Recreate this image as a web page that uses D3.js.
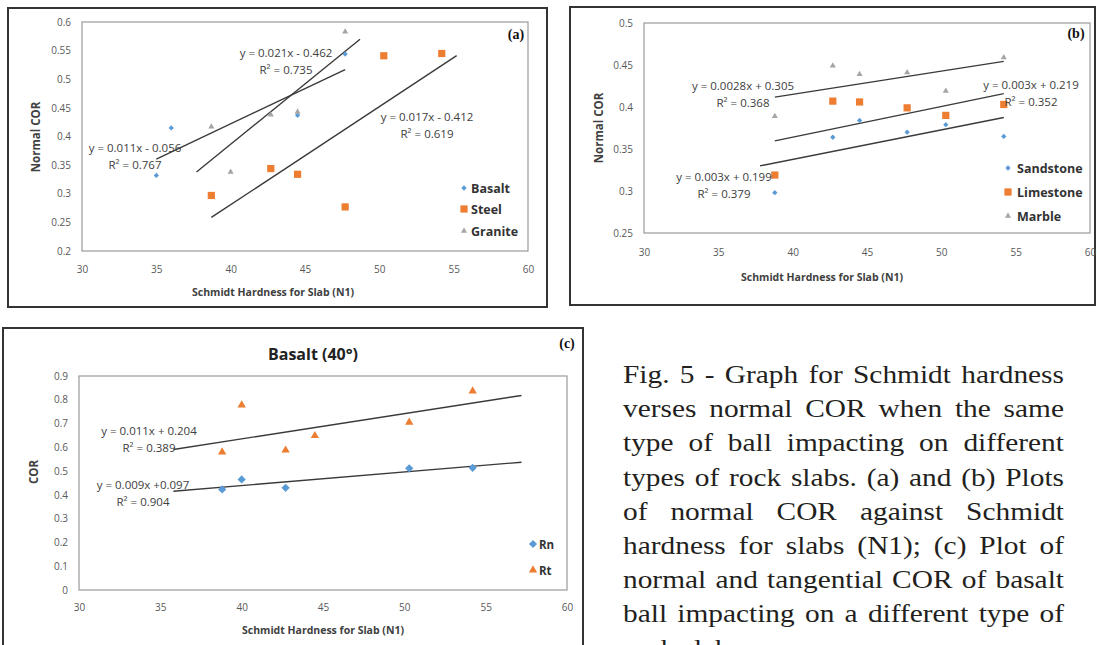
<!DOCTYPE html>
<html>
<head>
<meta charset="utf-8">
<script src="https://cdn.jsdelivr.net/npm/d3@7"></script>
<style>
  body { margin: 0; background: #fff; }
  svg { display: block; }
</style>
</head>
<body>
<div id="main"></div>
<script>
// ---- values ----
const xTicks = [30, 35, 40, 45, 50, 55, 60];

// (a) normal COR for basalt / steel / granite balls
const aBasaltX = [35, 36, 44.5, 47.7];
const aBasaltY = [0.332, 0.415, 0.437, 0.544];
const aSteelX = [38.7, 42.7, 44.5, 47.7, 50.3, 54.2];
const aSteelY = [0.297, 0.344, 0.334, 0.277, 0.541, 0.545];
const aGraniteX = [38.7, 40, 42.7, 44.5, 47.7];
const aGraniteY = [0.417, 0.338, 0.438, 0.443, 0.583];
const aYTicks = [0.2, 0.25, 0.3, 0.35, 0.4, 0.45, 0.5, 0.55, 0.6];

// (b) normal COR for sandstone / limestone / marble balls
const bX = [38.8, 42.7, 44.5, 47.7, 50.3, 54.2];
const bSandstoneY = [0.298, 0.364, 0.384, 0.370, 0.379, 0.365];
const bLimestoneY = [0.319, 0.407, 0.406, 0.399, 0.390, 0.403];
const bMarbleY = [0.389, 0.449, 0.439, 0.441, 0.419, 0.459];
const bYTicks = [0.25, 0.3, 0.35, 0.4, 0.45, 0.5];

// (c) basalt ball at 40 deg, normal (Rn) and tangential (Rt) COR
const cRnX = [38.8, 40, 42.7, 50.3, 54.2];
const cRnY = [0.423, 0.465, 0.430, 0.512, 0.514];
const cRtX = [38.8, 40, 42.7, 44.5, 50.3, 54.2];
const cRtY = [0.580, 0.778, 0.588, 0.649, 0.705, 0.837];
const cYTicks = [0, 0.1, 0.2, 0.3, 0.4, 0.5, 0.6, 0.7, 0.8, 0.9];

// trendline labels as printed, and forecast [backward, forward] in x units
const aEquations = [["y = 0.011x - 0.056", "R² = 0.767"], ["y = 0.017x - 0.412", "R² = 0.619"], ["y = 0.021x - 0.462", "R² = 0.735"]];
const aForecast = [[0, 0], [0, 1], [1, 1]];
const bEquations = [["y = 0.003x + 0.199", "R² = 0.379"], ["y = 0.003x + 0.219", "R² = 0.352"], ["y = 0.0028x + 0.305", "R² = 0.368"]];
const bForecast = [[1, 0], [0, 0], [0, 0]];
const cEquations = [["y = 0.009x +0.097", "R² = 0.904"], ["y = 0.011x + 0.204", "R² = 0.389"]];
const cForecast = [[3, 3], [3, 3]];

const captionLines = [
  "Fig. 5 - Graph for Schmidt hardness",
  "verses normal COR when the same",
  "type of ball impacting on different",
  "types of rock slabs. (a) and (b) Plots",
  "of normal COR against Schmidt",
  "hardness for slabs (N1); (c) Plot of",
  "normal and tangential COR of basalt",
  "ball impacting on a different type of",
  "rock slabs."
];

const BLUE = "#5b9bd5", ORANGE = "#ed7d31", GRAY = "#a5a5a5";
const FONT = "'Open Sans', sans-serif";

// square diamond (excel style), d3.symbolDiamond is too tall
const diamond = {
  draw(ctx, size) {
    const r = Math.sqrt(size / 2);
    ctx.moveTo(0, -r); ctx.lineTo(r, 0); ctx.lineTo(0, r); ctx.lineTo(-r, 0); ctx.closePath();
  }
};

function fit(xs, ys) {
  const mx = d3.mean(xs), my = d3.mean(ys);
  let sxy = 0, sxx = 0;
  xs.forEach((x, i) => { sxy += (x - mx) * (ys[i] - my); sxx += (x - mx) ** 2; });
  const m = sxy / sxx;
  return { m, b: my - m * mx };
}

const svg = d3.select("#main").append("svg")
  .attr("width", 1097)
  .attr("height", 645)
  .style("font-family", FONT);

function drawPanel(p) {
  const g = svg.append("g");

  // outer frame
  g.append("rect")
    .attr("x", p.frame[0]).attr("y", p.frame[1])
    .attr("width", p.frame[2] - p.frame[0]).attr("height", p.frame[3] - p.frame[1])
    .attr("fill", "#fff").attr("stroke", "#333").attr("stroke-width", 2);

  const x = d3.scaleLinear().domain([30, 60]).range([p.plot[0], p.plot[2]]);
  const y = d3.scaleLinear().domain(p.yDomain).range([p.plot[3], p.plot[1]]);

  // plot area border
  g.append("rect")
    .attr("x", p.plot[0]).attr("y", p.plot[1])
    .attr("width", p.plot[2] - p.plot[0]).attr("height", p.plot[3] - p.plot[1])
    .attr("fill", "none").attr("stroke", "#9a9a9a").attr("stroke-width", 1.2);

  const yAxis = g.append("g")
    .attr("transform", `translate(${p.plot[0]},0)`)
    .call(d3.axisLeft(y).tickValues(p.yTicks).tickSize(0).tickPadding(11).tickFormat(d => String(d)));
  const xAxis = g.append("g")
    .attr("transform", `translate(0,${p.plot[3]})`)
    .call(d3.axisBottom(x).tickValues(xTicks).tickSize(0).tickPadding(p.xPad).tickFormat(d => String(d)));
  [yAxis, xAxis].forEach(a => {
    a.select(".domain").remove();
    a.selectAll("text").attr("fill", "#595959").style("font-family", FONT).style("font-size", "10px");
  });

  // trendlines
  const line = d3.line().x(d => x(d[0])).y(d => y(d[1]));
  p.series.forEach(s => {
    const f = fit(s.x, s.y);
    const x0 = d3.min(s.x) - s.forecast[0], x1 = d3.max(s.x) + s.forecast[1];
    g.append("path")
      .attr("d", line([[x0, f.m * x0 + f.b], [x1, f.m * x1 + f.b]]))
      .attr("stroke", "#3a3a3a").attr("stroke-width", 1.4).attr("fill", "none");
  });

  // markers
  p.series.forEach(s => {
    g.append("g").selectAll("path")
      .data(s.x.map((d, i) => [d, s.y[i]]))
      .enter().append("path")
      .attr("transform", d => `translate(${x(d[0])},${y(d[1])})`)
      .attr("d", d3.symbol().type(s.symbol).size(s.size))
      .attr("fill", s.color);
  });

  // equation labels
  p.series.forEach(s => {
    s.eq.forEach((t, i) => {
      g.append("text")
        .attr("x", s.eqPos[0]).attr("y", s.eqPos[1] + i * 17)
        .attr("text-anchor", "middle").attr("dominant-baseline", "central")
        .attr("fill", "#404040").style("font-size", "11.5px")
        .text(t);
    });
  });

  // legend
  p.series.forEach((s, i) => {
    const ly = p.legend.ys[i];
    g.append("path")
      .attr("transform", `translate(${p.legend.mx},${ly})`)
      .attr("d", d3.symbol().type(s.symbol).size(s.size))
      .attr("fill", s.color);
    g.append("text")
      .attr("x", p.legend.tx).attr("y", ly)
      .attr("dominant-baseline", "central")
      .attr("fill", "#333").style("font-size", p.legend.fs).style("font-weight", "bold")
      .text(s.name);
  });

  // axis titles
  g.append("text")
    .attr("x", p.xTitle[0]).attr("y", p.xTitle[1])
    .attr("text-anchor", "middle").attr("dominant-baseline", "central")
    .attr("fill", "#404040").style("font-size", "10.5px").style("font-weight", "bold")
    .text("Schmidt Hardness for Slab (N1)");
  g.append("text")
    .attr("transform", `translate(${p.yTitle[0]},${p.yTitle[1]}) rotate(-90)`)
    .attr("text-anchor", "middle").attr("dominant-baseline", "central")
    .attr("fill", "#404040").style("font-size", "11.5px").style("font-weight", "bold")
    .text(p.yLabel);

  // panel tag
  g.append("text")
    .attr("x", p.tag[0]).attr("y", p.tag[1])
    .attr("text-anchor", "middle").attr("dominant-baseline", "central")
    .style("font-family", "'Liberation Serif', serif").style("font-size", "14px").style("font-weight", "bold")
    .attr("fill", "#111")
    .text(p.tagText);

  if (p.title) {
    g.append("text")
      .attr("x", p.title[0]).attr("y", p.title[1])
      .attr("text-anchor", "middle").attr("dominant-baseline", "central")
      .attr("fill", "#222").style("font-size", "16px").style("font-weight", "bold")
      .text(p.titleText);
  }
}

drawPanel({
  frame: [8, 8, 547, 307],
  plot: [82, 22, 528, 251],
  yDomain: [0.2, 0.6], yTicks: aYTicks, xPad: 15,
  series: [
    { name: "Basalt", x: aBasaltX, y: aBasaltY, color: BLUE, symbol: diamond, size: 14, forecast: aForecast[0], eq: aEquations[0], eqPos: [135, 147] },
    { name: "Steel", x: aSteelX, y: aSteelY, color: ORANGE, symbol: d3.symbolSquare, size: 52, forecast: aForecast[1], eq: aEquations[1], eqPos: [427, 116] },
    { name: "Granite", x: aGraniteX, y: aGraniteY, color: GRAY, symbol: d3.symbolTriangle, size: 16, forecast: aForecast[2], eq: aEquations[2], eqPos: [286, 52] }
  ],
  legend: { mx: 464, tx: 471, ys: [188, 209, 231], fs: "12.5px" },
  xTitle: [273, 292], yTitle: [35, 137], yLabel: "Normal COR",
  tag: [516, 34], tagText: "(a)"
});

drawPanel({
  frame: [570, 7, 1095, 305],
  plot: [644, 23, 1090, 233],
  yDomain: [0.25, 0.5], yTicks: bYTicks, xPad: 16,
  series: [
    { name: "Sandstone", x: bX, y: bSandstoneY, color: BLUE, symbol: diamond, size: 14, forecast: bForecast[0], eq: bEquations[0], eqPos: [724, 176] },
    { name: "Limestone", x: bX, y: bLimestoneY, color: ORANGE, symbol: d3.symbolSquare, size: 52, forecast: bForecast[1], eq: bEquations[1], eqPos: [1031, 84] },
    { name: "Marble", x: bX, y: bMarbleY, color: GRAY, symbol: d3.symbolTriangle, size: 16, forecast: bForecast[2], eq: bEquations[2], eqPos: [743, 85] }
  ],
  legend: { mx: 1008, tx: 1017, ys: [168, 192, 216], fs: "12.5px" },
  xTitle: [822, 277], yTitle: [598, 128], yLabel: "Normal COR",
  tag: [1076, 33], tagText: "(b)"
});

drawPanel({
  frame: [3, 328, 583, 680],
  plot: [79, 376, 567, 590],
  yDomain: [0, 0.9], yTicks: cYTicks, xPad: 14,
  series: [
    { name: "Rn", x: cRnX, y: cRnY, color: BLUE, symbol: diamond, size: 34, forecast: cForecast[0], eq: cEquations[0], eqPos: [143, 484] },
    { name: "Rt", x: cRtX, y: cRtY, color: ORANGE, symbol: d3.symbolTriangle, size: 30, forecast: cForecast[1], eq: cEquations[1], eqPos: [149, 430] }
  ],
  legend: { mx: 533, tx: 539, ys: [544, 570], fs: "11.5px" },
  xTitle: [323, 630], yTitle: [33, 472], yLabel: "COR",
  tag: [567, 343], tagText: "(c)",
  title: [313, 354], titleText: "Basalt (40°)"
});

// caption, justified line by line (the scan is a little stretched sideways)
const capScale = 1.13, capWidth = 441 / capScale;
const cap = svg.append("g")
  .attr("transform", `translate(623,0) scale(${capScale},1)`)
  .style("font-family", "'Liberation Serif', 'Times New Roman', serif")
  .style("font-size", "26px")
  .attr("fill", "#231f20");

captionLines.forEach((ln, i) => {
  const t = cap.append("text").attr("y", 383 + i * 34.2);
  const words = ln.split(" ");
  const spans = words.map(w => t.append("tspan").text(w));
  const widths = spans.map(s => s.node().getComputedTextLength());
  const last = i === captionLines.length - 1;
  const gap = last ? 6.5 : (capWidth - d3.sum(widths)) / (words.length - 1);
  let cx = 0;
  spans.forEach((s, j) => { s.attr("x", cx); cx += widths[j] + gap; });
});
</script>
</body>
</html>
